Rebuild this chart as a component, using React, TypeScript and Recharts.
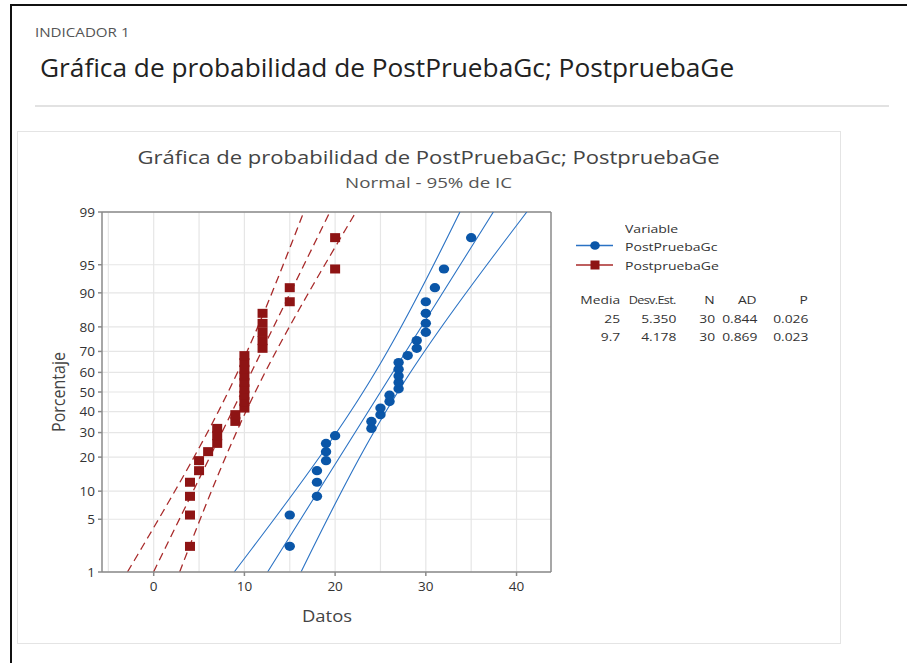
import { ComposedChart, Line, Scatter, XAxis, YAxis, CartesianGrid, ReferenceLine } from 'recharts';

const gcValues = [15, 15, 18, 18, 18, 19, 19, 19, 20, 24, 24, 25, 25, 26, 26, 27, 27, 27, 27, 27, 28, 29, 29, 30, 30, 30, 30, 31, 32, 35];
const geValues = [4, 4, 4, 4, 5, 5, 6, 7, 7, 7, 9, 9, 10, 10, 10, 10, 10, 10, 10, 10, 10, 12, 12, 12, 12, 12, 15, 15, 20, 20];

// fitted parameters shown in the table
const gcMean = 25;
const gcSd = 5.35;
const geMean = 9.7;
const geSd = 4.178;

const statHeaders = ['Media', 'Desv.Est.', 'N', 'AD', 'P'];
const gcStatRow = ['25', '5.350', '30', '0.844', '0.026'];
const geStatRow = ['9.7', '4.178', '30', '0.869', '0.023'];

const percentTicks = [1, 5, 10, 20, 30, 40, 50, 60, 70, 80, 90, 95, 99];
const xLabelTicks = [0, 10, 20, 30, 40];
const xGridTicks = [-5, 0, 5, 10, 15, 20, 25, 30, 35, 40];

const BLUE = '#0a56a8';
const BLUE_LINE = '#2a72c4';
const RED = '#8e1414';
const RED_LINE = '#a82a2a';
const FONT = '"Open Sans", "Noto Sans", sans-serif';

// Acklam's inverse normal cdf
function normInv(p: number): number {
  const a = [-3.969683028665376e1, 2.209460984245205e2, -2.759285104469687e2, 1.38357751867269e2, -3.066479806614716e1, 2.506628277459239];
  const b = [-5.447609879822406e1, 1.615858368580409e2, -1.556989798598866e2, 6.680131188771972e1, -1.328068155288572e1];
  const c = [-7.784894002430293e-3, -3.223964580411365e-1, -2.400758277161838, -2.549732539343734, 4.374664141464968, 2.938163982698783];
  const d = [7.784695709041462e-3, 3.224671290700398e-1, 2.445134137142996, 3.754408661907416];
  const pl = 0.02425;
  if (p < pl) {
    const q = Math.sqrt(-2 * Math.log(p));
    return (((((c[0] * q + c[1]) * q + c[2]) * q + c[3]) * q + c[4]) * q + c[5]) / ((((d[0] * q + d[1]) * q + d[2]) * q + d[3]) * q + 1);
  }
  if (p > 1 - pl) {
    const q = Math.sqrt(-2 * Math.log(1 - p));
    return -(((((c[0] * q + c[1]) * q + c[2]) * q + c[3]) * q + c[4]) * q + c[5]) / ((((d[0] * q + d[1]) * q + d[2]) * q + d[3]) * q + 1);
  }
  const q = p - 0.5;
  const r = q * q;
  return ((((((a[0] * r + a[1]) * r + a[2]) * r + a[3]) * r + a[4]) * r + a[5]) * q) / (((((b[0] * r + b[1]) * r + b[2]) * r + b[3]) * r + b[4]) * r + 1);
}

const zMin = normInv(0.01);
const zMax = normInv(0.99);
const zTicks = percentTicks.map((p) => normInv(p / 100));

// median rank plotting positions
const toPoints = (vals: number[]) => {
  const s = [...vals].sort((a, b) => a - b);
  return s.map((x, i) => ({ x, z: normInv((i + 1 - 0.3) / (s.length + 0.4)) }));
};

// fit line and 95% CI for percentiles
const band = (mean: number, sd: number, n: number, k: -1 | 0 | 1) => {
  const out: { x: number; z: number }[] = [];
  const steps = 60;
  for (let i = 0; i <= steps; i++) {
    const z = zMin + ((zMax - zMin) * i) / steps;
    const h = 1.959964 * sd * Math.sqrt((1 + (z * z) / 2) / n);
    out.push({ x: mean + z * sd + k * h, z });
  }
  return out;
};

const gcPoints = toPoints(gcValues);
const gePoints = toPoints(geValues);

const fmtPercent = (v: number) => {
  const i = zTicks.findIndex((t) => Math.abs(t - v) < 1e-6);
  return i >= 0 ? String(percentTicks[i]) : '';
};

const Square = (props: any) => <rect x={props.cx - 5} y={props.cy - 4.5} width={10} height={9} fill={RED} />;
const Dot = (props: any) => <ellipse cx={props.cx} cy={props.cy} rx={5.2} ry={4.6} fill={BLUE} />;

// the source image is slightly stretched sideways, so texts get a small scaleX
const txt = (s: React.CSSProperties, sx = 1, origin = 'left center'): React.CSSProperties => ({
  position: 'absolute',
  fontFamily: FONT,
  whiteSpace: 'nowrap',
  lineHeight: 1,
  transform: `scaleX(${sx})`,
  transformOrigin: origin,
  ...s,
});

const tickStyle = { fill: '#333', fontSize: 13.5, fontFamily: FONT, fontWeight: 500 };

export default function App() {
  const lines: [number, number, -1 | 0 | 1, string, string | undefined][] = [
    [geMean, geSd, -1, RED_LINE, '8 5'],
    [geMean, geSd, 0, RED_LINE, '8 5'],
    [geMean, geSd, 1, RED_LINE, '8 5'],
    [gcMean, gcSd, -1, BLUE_LINE, undefined],
    [gcMean, gcSd, 0, BLUE_LINE, undefined],
    [gcMean, gcSd, 1, BLUE_LINE, undefined],
  ];
  const colRight = [620, 676, 715, 757, 808];
  return (
    <div style={{ position: 'absolute', left: 0, top: 0, width: 907, height: 663, background: '#fff', overflow: 'hidden' }}>
      <div style={{ position: 'absolute', left: 10, top: 4, width: 920, height: 700, borderTop: '2.5px solid #111', borderLeft: '2.5px solid #111' }} />
      <div style={txt({ left: 35, top: 26, fontSize: 13.5, color: '#555' }, 1.12)}>INDICADOR 1</div>
      <div style={txt({ left: 40, top: 55, fontSize: 25, color: '#222', fontWeight: 500 }, 1.05)}>Gráfica de probabilidad de PostPruebaGc; PostpruebaGe</div>
      <div style={{ position: 'absolute', left: 35, top: 105, width: 854, height: 1.5, background: '#e2e2e2' }} />
      <div style={{ position: 'absolute', left: 17, top: 131, width: 822, height: 511, border: '1.5px solid #e4e4e4' }} />
      <div style={txt({ left: 0, width: 857, textAlign: 'center', top: 148, fontSize: 18.5, color: '#444' }, 1.19, '428px center')}>
        Gráfica de probabilidad de PostPruebaGc; PostpruebaGe
      </div>
      <div style={txt({ left: 0, width: 857, textAlign: 'center', top: 175, fontSize: 15, color: '#555' }, 1.25, '428px center')}>Normal - 95% de IC</div>

      <div style={{ position: 'absolute', left: 0, top: 0 }}>
        <ComposedChart width={907} height={663} margin={{ top: 212, right: 356, bottom: 61, left: 62 }}>
          <CartesianGrid
            xAxisId="main"
            yAxisId="main"
            stroke="#e6e6e6"
            strokeWidth={1.2}
            horizontalValues={zTicks}
            verticalValues={xGridTicks}
          />
          <XAxis
            xAxisId="main"
            dataKey="x"
            type="number"
            domain={[-5.7, 43.8]}
            ticks={xLabelTicks}
            interval={0}
            allowDataOverflow
            height={30}
            tickSize={4}
            tickMargin={5}
            stroke="#8a8a8a"
            strokeWidth={1.5}
            tick={tickStyle}
          />
          <YAxis
            yAxisId="main"
            dataKey="z"
            type="number"
            domain={[zMin, zMax]}
            ticks={zTicks}
            interval={0}
            allowDataOverflow
            width={40}
            tickSize={4}
            tickMargin={3}
            stroke="#8a8a8a"
            strokeWidth={1.5}
            tickFormatter={fmtPercent}
            tick={tickStyle}
          />
          <ReferenceLine xAxisId="main" yAxisId="main" y={zMax} stroke="#8a8a8a" strokeWidth={1.5} />
          <ReferenceLine xAxisId="main" yAxisId="main" x={43.8} stroke="#8a8a8a" strokeWidth={1.5} />
          {lines.map(([m, s, k, col, dash], i) => (
            <Line
              key={i}
              xAxisId="main"
              yAxisId="main"
              data={band(m, s, 30, k)}
              dataKey="z"
              type="linear"
              stroke={col}
              strokeWidth={dash ? 1.3 : 1.1}
              strokeDasharray={dash}
              dot={false}
              activeDot={false}
              isAnimationActive={false}
            />
          ))}
          <Scatter xAxisId="main" yAxisId="main" data={gePoints} dataKey="z" shape={Square} isAnimationActive={false} />
          <Scatter xAxisId="main" yAxisId="main" data={gcPoints} dataKey="z" shape={Dot} isAnimationActive={false} />
        </ComposedChart>
      </div>

      <div style={{ ...txt({ left: 58, top: 392, fontSize: 16, color: '#444' }), transform: 'translate(-50%, -50%) rotate(-90deg) scaleY(1.15)', transformOrigin: 'center' }}>
        Porcentaje
      </div>
      <div style={{ ...txt({ left: 327, top: 616, fontSize: 16, color: '#444' }), transform: 'translate(-50%, -50%) scaleX(1.15)', transformOrigin: 'center' }}>
        Datos
      </div>

      <svg style={{ position: 'absolute', left: 0, top: 0 }} width={907} height={663} pointerEvents="none">
        <line x1={576} x2={613} y1={245.5} y2={245.5} stroke={BLUE_LINE} strokeWidth={1.3} />
        <ellipse cx={595} cy={245.5} rx={4.8} ry={4.3} fill={BLUE} />
        <line x1={576} x2={613} y1={265} y2={265} stroke={RED_LINE} strokeWidth={1.3} />
        <rect x={590.5} y={260.5} width={9} height={9} fill={RED} />
      </svg>
      <div style={txt({ left: 625, top: 223, fontSize: 11.5, color: '#333' }, 1.22)}>Variable</div>
      <div style={txt({ left: 625, top: 241, fontSize: 11.5, color: '#333' }, 1.22)}>PostPruebaGc</div>
      <div style={txt({ left: 625, top: 260, fontSize: 11.5, color: '#333' }, 1.22)}>PostpruebaGe</div>
      {[statHeaders, gcStatRow, geStatRow].map((row, r) =>
        row.map((cell, c) => {
          const narrow = r === 0 && c === 1;
          return (
            <div
              key={`${r}-${c}`}
              style={txt(
                { right: 907 - colRight[c], top: 294 + r * 18.5, fontSize: 11.5, color: '#333', textAlign: 'right', letterSpacing: narrow ? -0.6 : 0 },
                narrow ? 1.1 : 1.2,
                'right center'
              )}
            >
              {cell}
            </div>
          );
        })
      )}
    </div>
  );
}
